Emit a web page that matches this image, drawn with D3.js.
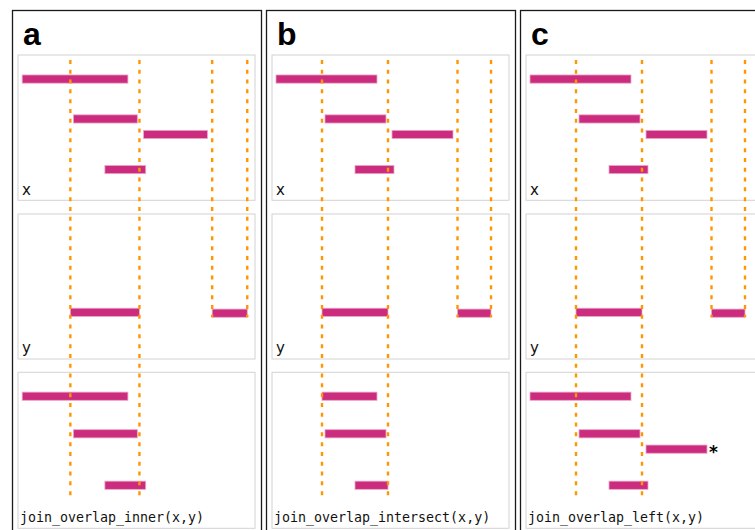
<!DOCTYPE html>
<html>
<head>
<meta charset="utf-8">
<script src="https://cdn.jsdelivr.net/npm/d3@7"></script>
<style>
  html, body { margin: 0; padding: 0; background: #fff; }
  svg { display: block; }
</style>
</head>
<body>
<svg id="chart" width="755" height="530"></svg>
<script>
// ---------------- data ----------------
const panelLetters = ["a", "b", "c"];
const opLabels = ["join_overlap_inner(x,y)", "join_overlap_intersect(x,y)", "join_overlap_left(x,y)"];
const panelDomainMax = [22.64, 23.7, 23.7];

// query ranges x
const xStart = [0.4, 5.3, 12.0, 8.3];
const xEnd   = [10.5, 11.4, 18.1, 12.2];
const xLevel = [1.66, 4.41, 5.48, 7.9];

// subject ranges y
const yStart = [5.0, 18.55];
const yEnd   = [11.6, 21.9];
const yLevel = [6.78, 6.84];
// guide lines from each y range: which sub-panel and level they end at
const guideEndRow   = [2, 1];
const guideEndLevel = [8.6, 7.12];

// results
const innerStart = [0.4, 5.3, 8.3];
const innerEnd   = [10.5, 11.4, 12.2];
const innerLevel = [1.65, 4.24, 7.79];

const interStart = [5.0, 5.3, 8.3];
const interEnd   = [10.5, 11.4, 11.6];
const interLevel = [1.65, 4.24, 7.79];

const leftStart = [0.4, 5.3, 12.0, 8.3];
const leftEnd   = [10.5, 11.4, 18.1, 12.2];
const leftLevel = [1.65, 4.24, 5.3, 7.79];
const leftFlag  = [false, false, true, false];

// ---------------- build ----------------
const zip = (s, e, l, f) => s.map((v, i) => ({start: v, end: e[i], level: l[i], flag: f ? f[i] : false}));
const xData = zip(xStart, xEnd, xLevel);
const yData = zip(yStart, yEnd, yLevel);
const results = [
  zip(innerStart, innerEnd, innerLevel),
  zip(interStart, interEnd, interLevel),
  zip(leftStart, leftEnd, leftLevel, leftFlag)
];

const svg = d3.select("#chart");

const outerLeft = [12.5, 266.5, 520.5];
const outerW = 249;
const subInset = 5.5;
const subW = 237;
const rowTops = [55, 214, 372.3];
const rowHeights = [145.3, 145, 156];
const rowLabelBaseline = [195, 352.5, 522];
const rowScaleH = 145;
const barH = 8.2;

const BAR = "#cc2c7e";
const BAR_EDGE = "#eaa7c7";
const GUIDE = "#ff9600";

panelLetters.forEach((letter, p) => {
  const g = svg.append("g");
  const ox = outerLeft[p];
  const sx = ox + subInset;

  // outer frame
  g.append("rect")
    .attr("x", ox).attr("y", 10.5)
    .attr("width", outerW).attr("height", 560)
    .attr("fill", "none").attr("stroke", "#1a1a1a").attr("stroke-width", 1.3);

  g.append("text")
    .attr("x", ox + 10.5).attr("y", 45)
    .attr("font-family", "Liberation Sans, Arial, sans-serif")
    .attr("font-weight", "bold").attr("font-size", 32)
    .attr("fill", "#000")
    .text(letter);

  const xs = d3.scaleLinear().domain([0, panelDomainMax[p]]).range([sx, sx + subW]);
  const ys = rowTops.map(t => d3.scaleLinear().domain([0, 10]).range([t, t + rowScaleH]));

  // sub-panel frames
  rowTops.forEach((t, r) => {
    g.append("rect")
      .attr("x", sx).attr("y", t)
      .attr("width", subW).attr("height", rowHeights[r])
      .attr("fill", "none").attr("stroke", "#d2d2d2").attr("stroke-width", 1);
  });

  const rowData = [xData, yData, results[p]];

  // bars
  rowData.forEach((data, r) => {
    g.append("g").selectAll("rect").data(data).join("rect")
      .attr("x", d => xs(d.start))
      .attr("y", d => ys[r](d.level) - barH / 2)
      .attr("width", d => xs(d.end) - xs(d.start))
      .attr("height", barH)
      .attr("fill", BAR)
      .attr("stroke", BAR_EDGE).attr("stroke-width", 0.8);
    g.append("g").selectAll("text").data(data.filter(d => d.flag)).join("text")
      .attr("x", d => xs(d.end) + 2)
      .attr("y", d => ys[r](d.level) + 9)
      .attr("font-family", "DejaVu Sans, sans-serif")
      .attr("font-weight", "bold").attr("font-size", 17)
      .attr("fill", "#000")
      .text("*");
  });

  // guide lines at y boundaries
  yData.forEach((d, i) => {
    [d.start, d.end].forEach(v => {
      g.append("line")
        .attr("x1", xs(v)).attr("x2", xs(v))
        .attr("y1", ys[0](0.34))
        .attr("y2", ys[guideEndRow[i]](guideEndLevel[i]))
        .attr("stroke", GUIDE).attr("stroke-width", 2.4)
        .attr("stroke-dasharray", "4,5.8");
    });
  });

  // row labels
  const labels = ["x", "y", opLabels[p]];
  labels.forEach((lab, r) => {
    const mono = r === 2;
    g.append("text")
      .attr("x", sx + (mono ? 2 : 4)).attr("y", rowLabelBaseline[r])
      .attr("font-family", mono ? "DejaVu Sans Mono, monospace" : "DejaVu Sans, sans-serif")
      .attr("font-size", mono ? 13.3 : 15)
      .attr("fill", "#111")
      .text(lab);
  });
});
</script>
</body>
</html>
